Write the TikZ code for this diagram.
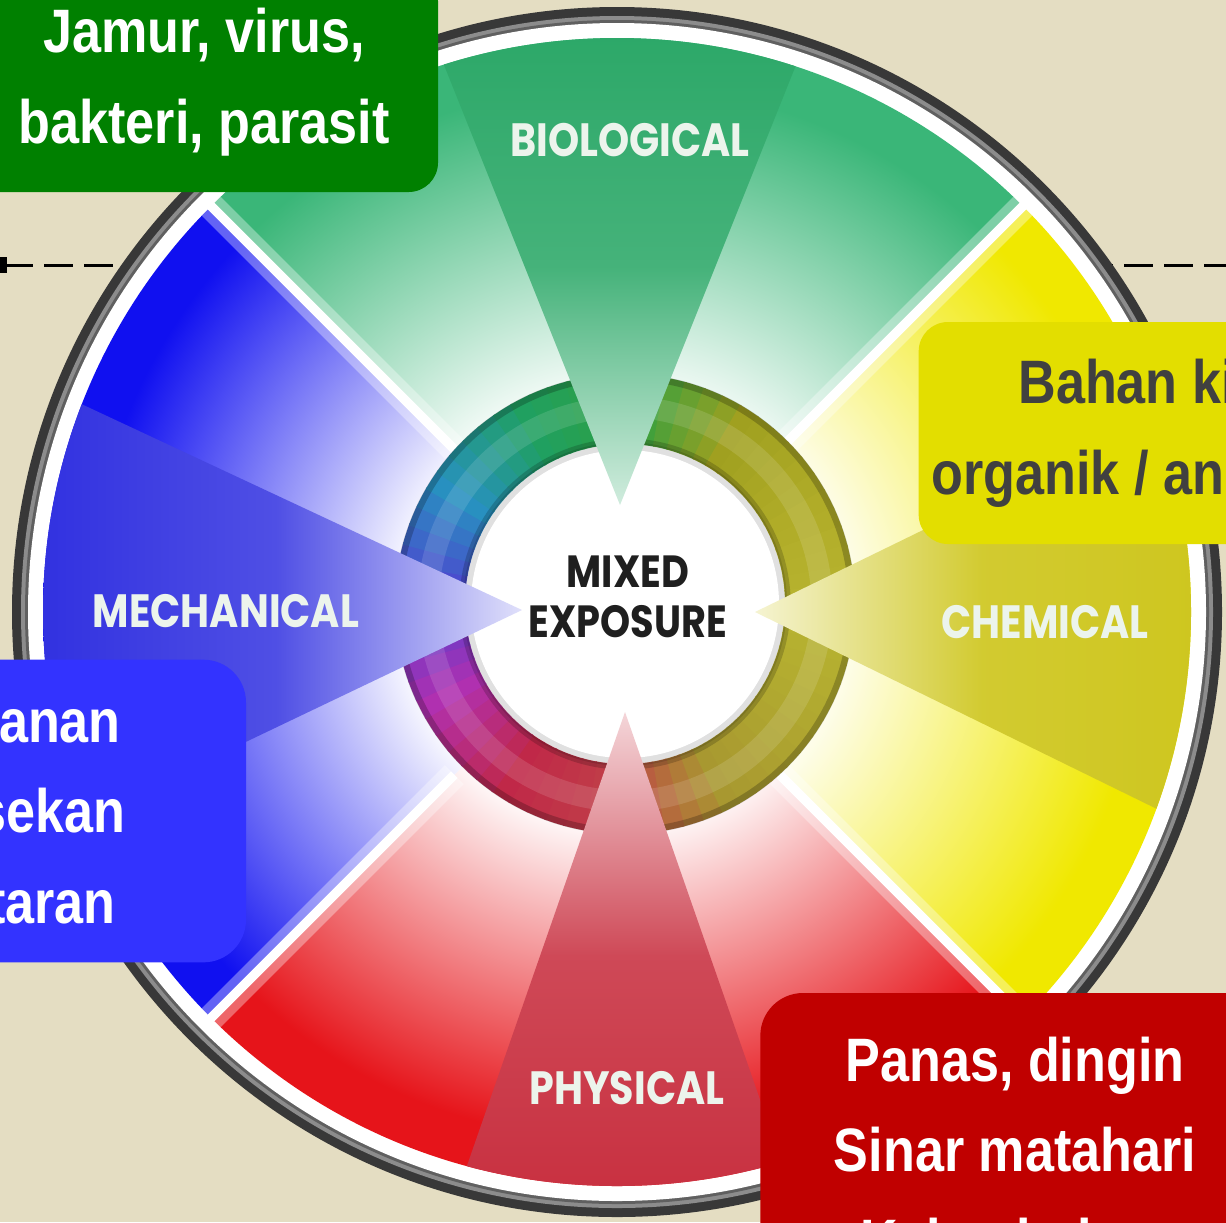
\documentclass[tikz,border=0pt]{standalone}
\usepackage{fontspec}
\usepackage{tikz}
\usetikzlibrary{positioning,calc}

\newfontfamily\boxfont{Liberation Sans}[FakeStretch=0.85]
\newfontfamily\wheelfont{Poppins}[FakeStretch=0.85]

\definecolor{backdrop}{RGB}{228,221,194}
\definecolor{rimdark}{RGB}{56,56,56}
\definecolor{rimgray}{RGB}{140,140,140}
\definecolor{biogreen}{RGB}{58,182,120}
\definecolor{chemyellow}{RGB}{240,232,0}
\definecolor{physred}{RGB}{230,20,26}
\definecolor{mechblue}{RGB}{16,16,240}
\definecolor{wgreen}{RGB}{44,168,104}
\definecolor{wyellow}{RGB}{206,198,30}
\definecolor{wred}{RGB}{200,48,64}
\definecolor{wblue}{RGB}{48,48,224}
\definecolor{boxgreen}{RGB}{0,128,0}
\definecolor{boxyellow}{RGB}{227,222,0}
\definecolor{boxblue}{RGB}{51,51,255}
\definecolor{boxred}{RGB}{192,0,0}
\definecolor{boxtext}{RGB}{64,64,64}
\definecolor{labelwhite}{RGB}{236,244,236}
%ring colours, every 30 degrees (clockwise from east)
\definecolor{ring0}{HTML}{B8B430}
\definecolor{ring1}{HTML}{B0A830}
\definecolor{ring2}{HTML}{A89830}
\definecolor{ring3}{HTML}{C04048}
\definecolor{ring4}{HTML}{C02848}
\definecolor{ring5}{HTML}{B030B0}
\definecolor{ring6}{HTML}{5040D0}
\definecolor{ring7}{HTML}{2890C0}
\definecolor{ring8}{HTML}{20A060}
\definecolor{ring9}{HTML}{30A040}
\definecolor{ring10}{HTML}{A0A020}
\definecolor{ring11}{HTML}{B0AC28}

\pgfdeclareradialshading{qgreen}{\pgfpoint{0bp}{0bp}}{color(0bp)=(white); color(9bp)=(white); color(23bp)=(biogreen); color(50bp)=(biogreen)}
\pgfdeclareradialshading{qyellow}{\pgfpoint{0bp}{0bp}}{color(0bp)=(white); color(9bp)=(white); color(23bp)=(chemyellow); color(50bp)=(chemyellow)}
\pgfdeclareradialshading{qred}{\pgfpoint{0bp}{0bp}}{color(0bp)=(white); color(9bp)=(white); color(23bp)=(physred); color(50bp)=(physred)}
\pgfdeclareradialshading{qblue}{\pgfpoint{0bp}{0bp}}{color(0bp)=(white); color(9bp)=(white); color(23bp)=(mechblue); color(50bp)=(mechblue)}

\tikzset{
  guideline/.style={black, line width=2.25pt, dash pattern=on 22pt off 8pt},
  divider/.style={white, line width=7pt},
  wheellabel/.style={inner sep=0.75pt, text=labelwhite, font=\wheelfont\bfseries\fontsize{35}{40}\selectfont},
  mixlabel/.style={inner sep=0.75pt, align=center, text=black!88, font=\wheelfont\bfseries\fontsize{33.8}{37.5}\selectfont},
  infobox/.style={inner sep=0pt, align=center, rounded corners=22pt, font=\boxfont\bfseries\fontsize{46}{68}\selectfont}
}

\begin{document}
\begin{tikzpicture}[x=0.75pt,y=0.75pt,yscale=-1,xscale=1]
\useasboundingbox (0,0) rectangle (1226,1222);
\clip (0,0) rectangle (1226,1222);

%Shape: Rectangle
\fill[backdrop] (0,0) rectangle (1226,1222);

\coordinate (wc) at (617,612);
\coordinate (hc) at (625,604);
\coordinate (dl) at (4,265);
\coordinate (dr) at (1226,265);

%Straight Lines
\draw[guideline] (dl) -- (dr);
\fill (0,257) rectangle (7,273);

%Shape: Circle
\fill[rimdark] (wc) circle (605);
\fill[rimgray] (wc) circle (596);
\fill[rimdark!80] (wc) circle (592);
\fill[white] (wc) circle (589);

%Shape: Arc
\foreach \a/\s in {-135/qgreen,-45/qyellow,45/qred,135/qblue}{
  \begin{scope}
    \clip (wc) -- ++(\a:600) arc[start angle=\a, end angle=\a+90, radius=600] -- cycle;
    \shade[shading=\s] (wc) circle (574);
  \end{scope}
}

%Straight Lines
\foreach \a in {-135,-45,45,135}{
  \draw[white, opacity=.35, line width=20pt] ($(wc)+(\a:230)$) -- ($(wc)+(\a:575)$);
  \draw[divider] ($(wc)+(\a:230)$) -- ($(wc)+(\a:580)$);
}

%Shape: Ring
\begin{scope}[shift={(hc)}]
\foreach \i in {0,...,71}{
  \pgfmathtruncatemacro{\rk}{\i/6}
  \pgfmathtruncatemacro{\rn}{mod(\rk+1,12)}
  \pgfmathtruncatemacro{\mixpct}{(\i-6*\rk)*100/6}
  \pgfmathsetmacro{\sa}{\i*5}
  \pgfmathsetmacro{\ea}{\i*5+5.6}
  \fill[ring\rn!\mixpct!ring\rk] (\sa:230) arc[start angle=\sa, end angle=\ea, radius=230] -- (\ea:160) arc[start angle=\ea, end angle=\sa, radius=160] -- cycle;
}
\end{scope}
\draw[black, opacity=.22, line width=5pt] (hc) circle (227);
\draw[black, opacity=.18, line width=4pt] (hc) circle (163);
\draw[white, opacity=.12, line width=16pt] (hc) circle (197);

%Shape: Circle
\fill[black, opacity=.12] (hc) circle (162);
\fill[white] (hc) circle (154);

%Shape: Triangle
\begin{scope}
  \clip (wc) circle (574);
  \shade[top color=wgreen, bottom color=wgreen!22!white, middle color=wgreen!88!white] (430,30) -- (620,505) -- (810,30) -- cycle;
  \shade[bottom color=wred, top color=wred!20!white, middle color=wred!88!white] (455,1200) -- (625,712) -- (795,1200) -- cycle;
  \shade[left color=wblue, right color=wblue!15!white, middle color=wblue!85!white] (30,380) -- (522,610) -- (30,845) -- cycle;
  \shade[right color=wyellow, left color=wyellow!20!white, middle color=wyellow!92!white] (1210,390) -- (755,612) -- (1210,835) -- cycle;
\end{scope}

% Text Node
\node[wheellabel] (bio) at (630,140) {BIOLOGICAL};
% Text Node
\node[wheellabel] (mech) at (226,611) {MECHANICAL};
% Text Node
\node[wheellabel] (chem) at (1045,622) {CHEMICAL};
% Text Node
\node[wheellabel] (phys) at (627,1088) {PHYSICAL};
% Text Node
\node[mixlabel] (mix) at (628,597) {MIXED\\EXPOSURE};

% Text Node
\node[infobox, fill=boxgreen, text=white, minimum width=351pt, minimum height=165pt] (biobox) at (204,82) {Jamur, virus,\\bakteri, parasit};
% Text Node
\node[infobox, fill=boxyellow, text=boxtext, minimum width=380pt, minimum height=166.5pt] (chembox) at (1172,433) {Bahan kimia\\organik / anorganik};
% Text Node
\node[infobox, fill=boxblue, text=white, minimum width=343.5pt, minimum height=227pt, rounded corners=32pt] (mechbox) at (17,811) {Tekanan\\Gesekan\\Getaran};
% Text Node
\node[infobox, fill=boxred, text=white, minimum width=382pt, minimum height=235.5pt, rounded corners=32pt] (physbox) at (1015,1150) {Panas, dingin\\Sinar matahari\\Kelembaban};
\end{tikzpicture}
\end{document}
